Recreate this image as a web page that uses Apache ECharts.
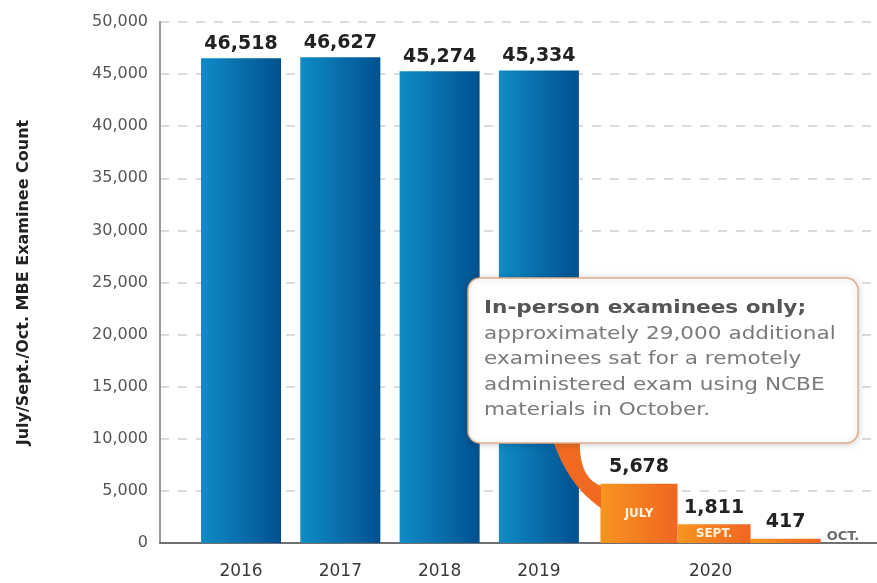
<!DOCTYPE html>
<html>
<head>
<meta charset="utf-8">
<script src="https://cdn.jsdelivr.net/npm/echarts@6/dist/echarts.min.js"></script>
<style>
  html, body { margin: 0; padding: 0; background: #fff; }
  #main { width: 877px; height: 583px; }
</style>
</head>
<body>
<div id="main"></div>
<script>
// data
const years = ['2016', '2017', '2018', '2019'];
const yearCounts = [46518, 46627, 45274, 45334];
const months2020 = ['JULY', 'SEPT.', 'OCT.'];
const counts2020 = [5678, 1811, 417];

// layout in x units (one unit = one year slot)
const blueWidth = 80;
const start2020 = 3.62;
const widths2020 = [0.776, 0.736, 0.706];
const label2020At = 4.73;

const fmt = v => v.toLocaleString('en-US');
const font = 'DejaVu Sans';

const xLabelValues = years.map((y, i) => i).concat([label2020At]);
const xLabelTexts = years.concat(['2020']);

let x0 = start2020;
const data2020 = counts2020.map((c, i) => {
  const item = [x0, x0 + widths2020[i], c, i];
  x0 += widths2020[i];
  return item;
});

const blueGrad = {
  type: 'linear', x: 0, y: 0, x2: 1, y2: 0,
  colorStops: [{ offset: 0, color: '#0f8cc6' }, { offset: 1, color: '#00508f' }]
};
const orangeGrad = {
  type: 'linear', x: 0, y: 0, x2: 1, y2: 0,
  colorStops: [{ offset: 0, color: '#f7951f' }, { offset: 1, color: '#f06522' }]
};

// callout tail: two quadratic curves sampled into a polygon
function quad(p0, p1, p2, n) {
  const pts = [];
  for (let k = 0; k <= n; k++) {
    const t = k / n, u = 1 - t;
    pts.push([u * u * p0[0] + 2 * u * t * p1[0] + t * t * p2[0],
              u * u * p0[1] + 2 * u * t * p1[1] + t * t * p2[1]]);
  }
  return pts;
}
const tailPts = quad([552, 438], [568, 486], [601, 508], 16)
  .concat(quad([601, 486], [578, 477], [580, 438], 16));

function render2020(params, api) {
  const a = api.coord([api.value(0), api.value(2)]);
  const b = api.coord([api.value(1), 0]);
  const i = api.value(3);
  const children = [{
    type: 'rect',
    shape: { x: a[0], y: a[1], width: b[0] - a[0], height: b[1] - a[1] },
    style: { fill: orangeGrad }
  }, {
    type: 'text',
    style: {
      text: fmt(counts2020[i]), x: (a[0] + b[0]) / 2, y: a[1] - 7,
      align: 'center', verticalAlign: 'bottom',
      font: 'bold 19px "' + font + '"', fill: '#222'
    }
  }];
  if (i < months2020.length - 1) {
    children.push({
      type: 'text',
      style: {
        text: months2020[i], x: (a[0] + b[0]) / 2, y: (a[1] + b[1]) / 2,
        align: 'center', verticalAlign: 'middle',
        font: 'bold 12px "' + font + '"', fill: '#fff3e0'
      }
    });
  } else {
    children.push({
      type: 'text',
      style: {
        text: months2020[i], x: b[0] + 6, y: b[1] - 6,
        align: 'left', verticalAlign: 'middle',
        font: 'bold 13px "' + font + '"', fill: '#6b6b6b'
      }
    });
  }
  return { type: 'group', children: children };
}

const chart = echarts.init(document.getElementById('main'));
chart.setOption({
  animation: false,
  backgroundColor: '#fff',
  textStyle: { fontFamily: font },
  grid: { left: 160, right: 0, top: 22, bottom: 40, containLabel: false },
  xAxis: {
    type: 'value',
    min: -0.816,
    max: 6.405,
    splitLine: { show: false },
    axisTick: { show: false },
    axisLine: { show: true, onZero: false, lineStyle: { color: '#707070', width: 2 } },
    axisLabel: {
      customValues: xLabelValues,
      formatter: v => {
        let k = 0;
        xLabelValues.forEach((x, j) => { if (Math.abs(x - v) < Math.abs(xLabelValues[k] - v)) k = j; });
        return xLabelTexts[k];
      },
      fontSize: 17, color: '#3a3a3a', margin: 20
    }
  },
  yAxis: {
    type: 'value',
    min: 0,
    max: 50000,
    interval: 5000,
    name: 'July/Sept./Oct. MBE Examinee Count',
    nameLocation: 'middle',
    nameGap: 128,
    nameTextStyle: { fontSize: 16, fontWeight: 'bold', color: '#222' },
    axisLine: { show: true, onZero: false, lineStyle: { color: '#9a9a9a', width: 2 } },
    axisTick: { show: false },
    axisLabel: {
      formatter: v => fmt(v),
      fontSize: 16, color: '#555', margin: 12
    },
    splitLine: { show: true, lineStyle: { color: '#cfcfcf', width: 1.5, type: [9, 9] } }
  },
  series: [{
    type: 'bar',
    data: yearCounts.map((c, i) => [i, c]),
    barWidth: blueWidth,
    itemStyle: { color: blueGrad },
    label: {
      show: true, position: 'top', distance: 5,
      formatter: p => fmt(p.value[1]),
      fontSize: 19, fontWeight: 'bold', color: '#222'
    },
    z: 2
  }, {
    type: 'custom',
    renderItem: render2020,
    data: data2020,
    z: 3
  }],
  graphic: [{
    type: 'polygon',
    z: 50,
    shape: { points: tailPts },
    style: { fill: '#f26a21' }
  }, {
    type: 'rect',
    z: 60,
    shape: { x: 468, y: 278, width: 390, height: 165, r: 12 },
    style: {
      fill: '#fff', stroke: '#e0ad8c', lineWidth: 1.5,
      shadowBlur: 6, shadowColor: 'rgba(0,0,0,0.18)', shadowOffsetY: 1
    }
  }, {
    type: 'text',
    z: 61,
    x: 484, y: 296,
    scaleX: 1.27,
    style: {
      x: 0, y: 0,
      text: '{b|In-person examinees only;}\napproximately 29,000 additional\nexaminees sat for a remotely\nadministered exam using NCBE\nmaterials in October.',
      font: '17px "' + font + '"',
      fill: '#7a7a7a',
      lineHeight: 25.5,
      rich: { b: { font: 'bold 17px "' + font + '"', fill: '#555', lineHeight: 25.5 } }
    }
  }]
});
</script>
</body>
</html>
